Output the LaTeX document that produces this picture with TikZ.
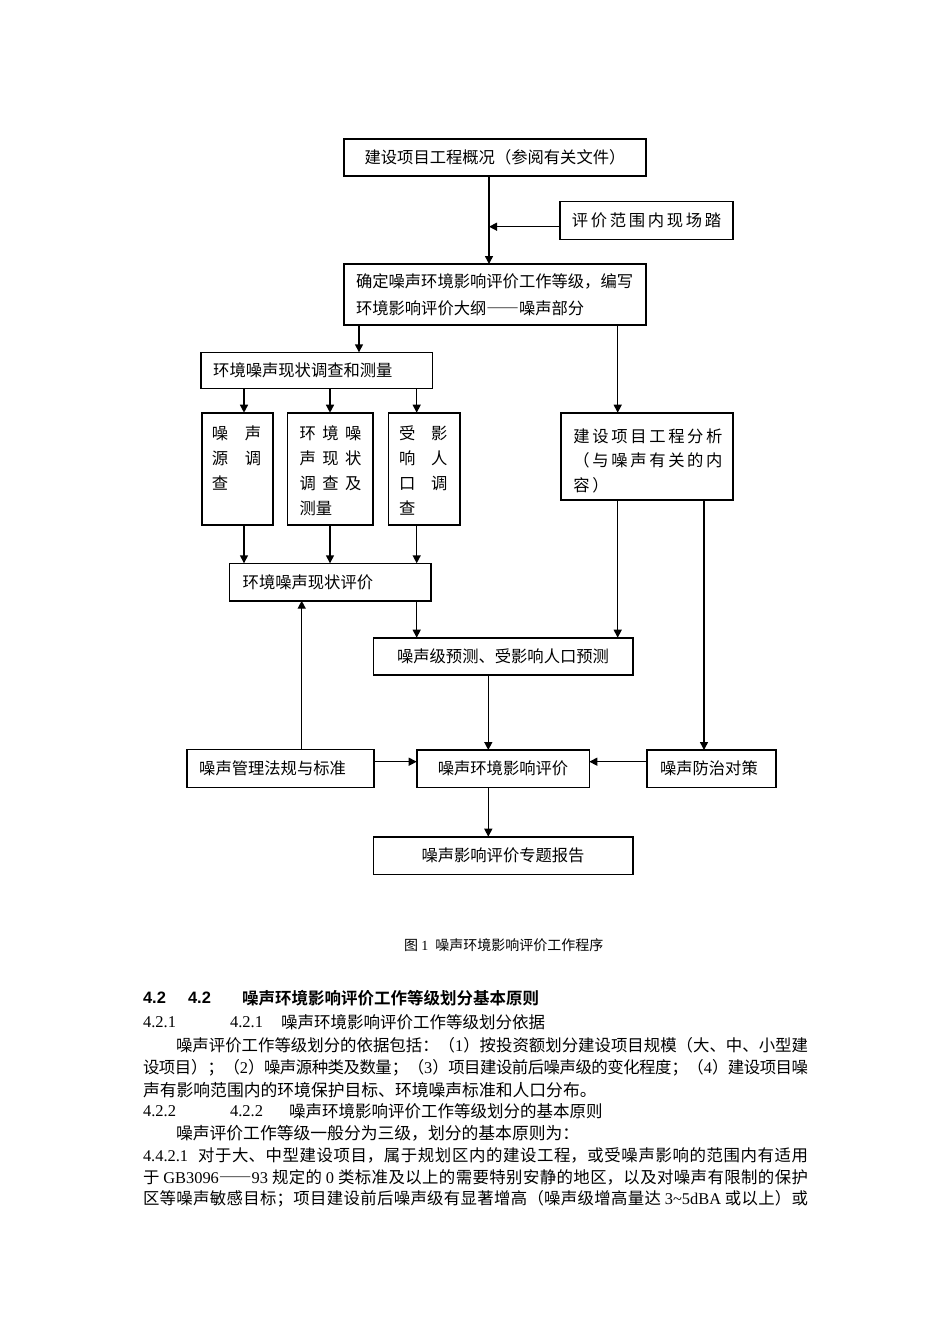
\documentclass[tikz,border=0pt]{standalone}
\usepackage{fontspec}
\setmainfont{Noto Sans CJK SC}
\newfontfamily\lat{Liberation Serif}
\newfontfamily\hlat{Liberation Sans}
\newfontfamily\cjkb{Noto Sans CJK SC}[UprightFont=* Bold]
\newfontfamily\cjksp{Noto Sans CJK SC}[LetterSpace=16.5]
\newfontfamily\cjkfw{Noto Sans CJK SC}[RawFeature=+fwid]
\usetikzlibrary{arrows.meta}
\XeTeXlinebreaklocale "zh"
\XeTeXlinebreakskip=0pt plus 3pt minus 0.8pt
\newcommand\boxfont{\fontsize{16.3}{20}\selectfont}
\newcommand\boxfontC{\fontsize{16.3}{26.7}\selectfont}
\newcommand\boxsp{\fontsize{16.3}{20}\selectfont\cjksp}
\newcommand\bodyfont{\fontsize{16.8}{22}\selectfont}
\newcommand\bodyj{\fontsize{16.4}{22}\selectfont}
\newcommand\headfont{\fontsize{16.5}{22}\selectfont}
\newcommand\capfont{\fontsize{14}{18}\selectfont}
\newcommand\emdd{{\cjkfw ——}}
\newcommand\jline[2]{\parbox{#1}{\tolerance=10000\parfillskip=0pt\relax #2}}
\tikzset{
  bx/.style={draw, line width=1.6pt, inner sep=0pt, outer sep=0pt, font=\boxfont},
  lbx/.style={bx, align=left, inner ysep=0pt},
  arr/.style={-{Triangle[length=8pt,width=8pt]}, line width=1.4pt},
  txt/.style={anchor=west, inner sep=0pt, outer sep=0pt},
}
\begin{document}
\begin{tikzpicture}[x=1pt,y=-1pt]
\fill[white] (0,0) rectangle (950,1344);
\useasboundingbox (0,0) rectangle (950,1344);

% boxes
\node[bx, minimum width=302pt, minimum height=37pt] (A) at (495,157.7) {建设项目工程概况（参阅有关文件）};
\node[bx, font=\boxsp, minimum width=173pt, minimum height=38pt] (B) at (646.5,220.4) {评价范围内现场踏};
\node[lbx, font=\boxfontC, text width=278pt, inner xsep=12pt, minimum height=61pt] (C) at (495,294.5)
  {\mbox{确定噪声环境影响评价工作等级，编写}\\\mbox{环境影响评价大纲\emdd 噪声部分}};
\node[lbx, text width=206.6pt, inner xsep=12.5pt, minimum height=36pt] (D) at (316.5,370.3) {\mbox{环境噪声现状调查和测量}};
\node[bx, minimum width=172pt, minimum height=87.3pt] (E) at (646.7,456.35) {};
\node[bx, minimum width=70.7pt, minimum height=112.3pt] (F1) at (237.35,468.85) {};
\node[bx, minimum width=85.4pt, minimum height=112.3pt] (F2) at (330,468.85) {};
\node[bx, minimum width=71.7pt, minimum height=112.3pt] (F3) at (424.15,468.85) {};
\node[lbx, text width=174.6pt, inner xsep=13.4pt, minimum height=37.4pt] (G) at (330,582) {\mbox{环境噪声现状评价}};
\node[bx, minimum width=259.4pt, minimum height=37.3pt] (H) at (503,656.35) {噪声级预测、受影响人口预测};
\node[lbx, text width=162.3pt, inner xsep=12.5pt, minimum height=38pt] (I) at (280.35,768.3) {\mbox{噪声管理法规与标准}};
\node[bx, minimum width=172.6pt, minimum height=37.3pt] (J) at (503,768.65) {噪声环境影响评价};
\node[lbx, text width=102.7pt, inner xsep=13.3pt, minimum height=37.3pt] (K) at (711.35,768.65) {\mbox{噪声防治对策}};
\node[bx, minimum width=259.4pt, minimum height=37.6pt] (L) at (503,855.5) {噪声影响评价专题报告};

% text inside E
\node[txt, font=\boxsp] (e1) at (573.3,436) {建设项目工程分析};
\node[txt, font=\boxsp] (e2) at (573.3,460.5) {（与噪声有关的内};
\node[txt, font=\boxsp] (e3) at (573.3,485) {容）};
% text inside F1
\node[txt, font=\boxfont] (f1a) at (211.8,433) {噪\hspace{16.7pt}声};
\node[txt, font=\boxfont] (f1b) at (211.8,458) {源\hspace{16.7pt}调};
\node[txt, font=\boxfont] (f1c) at (211.8,483) {查};
% text inside F2
\node[txt, font=\boxfont] (f2a) at (299.5,433) {环\hspace{6.5pt}境\hspace{6.5pt}噪};
\node[txt, font=\boxfont] (f2b) at (299.5,458) {声\hspace{6.5pt}现\hspace{6.5pt}状};
\node[txt, font=\boxfont] (f2c) at (299.5,483) {调\hspace{6.5pt}查\hspace{6.5pt}及};
\node[txt, font=\boxfont] (f2d) at (299.5,508) {测量};
% text inside F3
\node[txt, font=\boxfont] (f3a) at (399.2,433) {受\hspace{15.7pt}影};
\node[txt, font=\boxfont] (f3b) at (399.2,458) {响\hspace{15.7pt}人};
\node[txt, font=\boxfont] (f3c) at (399.2,483) {口\hspace{15.7pt}调};
\node[txt, font=\boxfont] (f3d) at (399.2,508) {查};

% helper coordinates
\coordinate (xm) at (489,0);
\coordinate (m1) at (489,226.7);
\coordinate (xcd) at (359,0);
\coordinate (xce) at (617.7,0);
\coordinate (x1) at (244,0);
\coordinate (x2) at (330,0);
\coordinate (x3) at (416.7,0);
\coordinate (xek) at (704,0);
\coordinate (xhj) at (488.3,0);
\coordinate (xig) at (301.7,0);
\coordinate (yij) at (0,761.7);

% connectors
\draw[arr] (A.south -| xm) -- (C.north -| xm);
\draw[arr] (B.west |- m1) -- (m1);
\draw[arr] (C.south -| xcd) -- (D.north -| xcd);
\draw[arr] (C.south -| xce) -- (E.north -| xce);
\draw[arr] (D.south -| x1) -- (F1.north -| x1);
\draw[arr] (D.south -| x2) -- (F2.north -| x2);
\draw[arr] (D.south -| x3) -- (F3.north -| x3);
\draw[arr] (F1.south -| x1) -- (G.north -| x1);
\draw[arr] (F2.south -| x2) -- (G.north -| x2);
\draw[arr] (F3.south -| x3) -- (G.north -| x3);
\draw[arr] (G.south -| x3) -- (H.north -| x3);
\draw[arr] (E.south -| xce) -- (H.north -| xce);
\draw[arr] (E.south -| xek) -- (K.north -| xek);
\draw[arr] (H.south -| xhj) -- (J.north -| xhj);
\draw[arr] (I.north -| xig) -- (G.south -| xig);
\draw[arr] (I.east |- yij) -- (J.west |- yij);
\draw[arr] (K.west |- yij) -- (J.east |- yij);
\draw[arr] (J.south -| xhj) -- (L.north -| xhj);

% caption
\node[font=\capfont, inner sep=0pt] (cap) at (503.8,945) {图 {\lat 1}\hspace{4pt} 噪声环境影响评价工作程序};

% body text
\node[txt, font=\headfont] (h1) at (143,998) {\hlat\bfseries 4.2};
\node[txt, font=\headfont] (h2) at (188,998) {\hlat\bfseries 4.2};
\node[txt, font=\headfont] (h3) at (242,998) {\cjkb 噪声环境影响评价工作等级划分基本原则};

\node[txt, font=\headfont] (s1a) at (143,1022) {\lat 4.2.1};
\node[txt, font=\headfont] (s1b) at (230,1022) {\lat 4.2.1};
\node[txt, font=\headfont] (s1c) at (281,1022) {噪声环境影响评价工作等级划分依据};

\node[txt, font=\bodyj] (p1) at (176,1045) {\jline{632pt}{噪声评价工作等级划分的依据包括：（{\lat 1}）按投资额划分建设项目规模（大、中、小型建}};
\node[txt, font=\bodyj] (p2) at (143,1067.5) {\jline{665pt}{设项目）；（{\lat 2}）噪声源种类及数量；（{\lat 3}）项目建设前后噪声级的变化程度；（{\lat 4}）建设项目噪}};
\node[txt, font=\bodyfont] (p3) at (143,1090) {声有影响范围内的环境保护目标、环境噪声标准和人口分布。};

\node[txt, font=\headfont] (s2a) at (143,1111) {\lat 4.2.2};
\node[txt, font=\headfont] (s2b) at (230,1111) {\lat 4.2.2};
\node[txt, font=\headfont] (s2c) at (289,1111) {噪声环境影响评价工作等级划分的基本原则};

\node[txt, font=\bodyfont] (p4) at (176,1133) {噪声评价工作等级一般分为三级，划分的基本原则为：};
\node[txt, font=\bodyj] (p5) at (143,1155) {\jline{665pt}{{\lat 4.4.2.1}\hspace{10pt}对于大、中型建设项目，属于规划区内的建设工程，或受噪声影响的范围内有适用}};
\node[txt, font=\bodyj] (p6) at (143,1177) {\jline{665pt}{于 {\lat GB3096}\emdd{\lat 93} 规定的 {\lat 0} 类标准及以上的需要特别安静的地区，以及对噪声有限制的保护}};
\node[txt, font=\bodyj] (p7) at (143,1199) {\jline{665pt}{区等噪声敏感目标；项目建设前后噪声级有显著增高（噪声级增高量达 {\lat 3\textasciitilde 5dBA} 或以上）或}};
\end{tikzpicture}
\end{document}
